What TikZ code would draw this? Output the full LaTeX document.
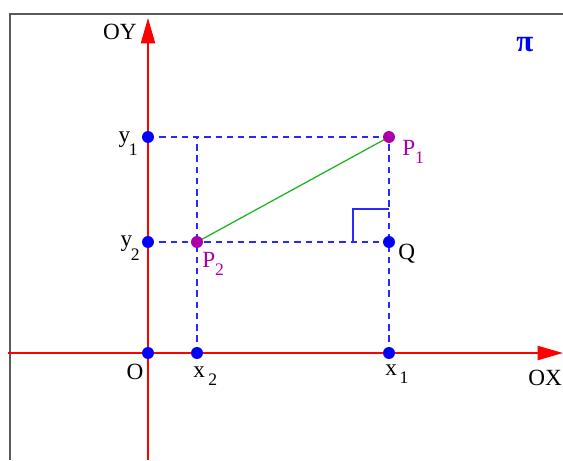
\documentclass[tikz,border=0pt]{standalone}
\usepackage{fontspec}
\setmainfont{Liberation Serif}
\usetikzlibrary{arrows.meta}
\definecolor{ptpurple}{RGB}{170,0,170}
\definecolor{seggreen}{RGB}{30,180,30}
\definecolor{framegray}{RGB}{90,90,90}
\definecolor{guideblue}{RGB}{40,40,255}
\tikzset{
  axis/.style={red, line width=1.4pt, -{Triangle[length=18pt,width=10pt]}},
  guide/.style={draw=guideblue, line width=0.9pt, dash pattern=on 4.5pt off 3.5pt},
  bluedot/.style={circle, fill=blue, inner sep=0pt, minimum size=8.5pt},
  purpledot/.style={circle, fill=ptpurple, inner sep=0pt, minimum size=8.5pt},
  lbl/.style={font=\fontsize{16.5}{19}\selectfont, inner sep=0pt}
}
\newcommand\lowidx[2][5.7pt]{\raisebox{-#1}{\fontsize{12.5}{15}\selectfont #2}}
\begin{document}
\begin{tikzpicture}[x=0.025cm, y=-0.025cm]
    \useasboundingbox (0,0) rectangle (563,460);
    % frame
    \draw [framegray, line width=1.4pt] (10,460)--(10,14)--(563,14);

    % points
    \coordinate (O) at (148,353);
    \coordinate (x2) at (197,353);
    \coordinate (x1) at (389,353);
    \coordinate (y1) at (148,137);
    \coordinate (y2) at (148,242);
    \coordinate (P1) at (389,137);
    \coordinate (P2) at (197,242);
    \coordinate (Q) at (389,242);
    \coordinate (top2) at (197,137);

    % axes
    \draw [axis] (8,353)--(563,353);
    \draw [axis] (148,460)--(148,18);

    % guide lines
    \draw [guide] (y1)--(P1);
    \draw [guide] (y2)--(Q);
    \draw [guide] (x2)--(top2);
    \draw [guide] (x1)--(P1);

    % right angle at Q
    \draw [draw=guideblue, line width=0.9pt] (353,242)--(353,209)--(389,209);

    % segment
    \draw [seggreen, line width=0.9pt] (P2)--(P1);

    % dots
    \foreach \p in {O,x1,x2,y1,y2,Q}
        \node [bluedot] at (\p) {};
    \node [purpledot] at (P1) {};
    \node [purpledot] at (P2) {};

    % labels
    \node [lbl, anchor=base east] (lOY) at (137,39) {OY};
    \node [lbl, anchor=base west] (lOX) at (528,385) {OX};
    \node [lbl, anchor=base] (lO) at (135,379) {O};
    \node [lbl, anchor=base west] (lx2) at (193,377) {x\kern2.5pt\lowidx{2}};
    \node [lbl, anchor=base west] (lx1) at (385,375) {x\kern2pt\lowidx{1}};
    \node [lbl, anchor=base east] (ly1) at (138,142) {y\kern-1pt\lowidx[9.5pt]{1}};
    \node [lbl, anchor=base east] (ly2) at (140,246) {y\kern-1pt\lowidx[10pt]{2}};
    \node [lbl, anchor=base west, ptpurple] (lP1) at (402,155) {P\lowidx{1}};
    \node [lbl, anchor=base west, ptpurple] (lP2) at (202,267) {P\lowidx{2}};
    \node [lbl, anchor=base west] (lQ) at (398,259) {Q};
    \node [lbl, anchor=base west, blue, font=\fontsize{22}{24}\selectfont\bfseries] (lpi) at (516,51) {π};
\end{tikzpicture}
\end{document}
